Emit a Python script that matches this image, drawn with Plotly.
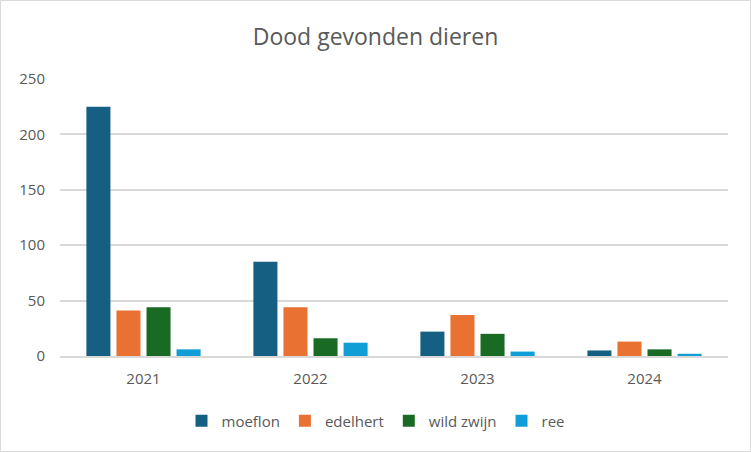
import plotly.graph_objects as go

years = ["2021", "2022", "2023", "2024"]
moeflon = [225, 85, 22, 5]
edelhert = [41, 44, 37, 13]
wild_zwijn = [44, 16, 20, 6]
ree = [6, 12, 4, 2]
series_names = ["moeflon", "edelhert", "wild zwijn", "ree"]
colors = ["#156082", "#E97132", "#196B24", "#0F9ED5"]

W, H = 751, 452
ml, mr, mt, mb = 60, 23, 79, 96

fig = go.Figure()
for name, vals, c in zip(series_names, [moeflon, edelhert, wild_zwijn, ree], colors):
    fig.add_trace(go.Bar(x=years, y=vals, name=name, marker_color=c, marker_line_width=0))

pw = W - ml - mr
ph = H - mt - mb
fig.add_shape(type="rect", xref="paper", yref="paper",
              x0=-(ml - 0.5) / pw, x1=1 + (mr - 0.5) / pw,
              y0=-(mb - 0.5) / ph, y1=1 + (mt - 0.5) / ph,
              line=dict(color="#d9d9d9", width=1), fillcolor="rgba(0,0,0,0)", layer="below")

fig.update_layout(
    width=W, height=H,
    margin=dict(l=ml, r=mr, t=mt, b=mb),
    paper_bgcolor="white", plot_bgcolor="white",
    font=dict(family="Open Sans", color="#595959", size=15),
    title=dict(text="Dood gevonden dieren", x=0.5, xref="container", xanchor="center",
               y=1 - 37 / H, yref="container", yanchor="middle",
               font=dict(size=23, color="#595959", family="Open Sans")),
    barmode="group", bargap=0.28, bargroupgap=0.2,
    showlegend=True,
    legend=dict(orientation="h", x=0.5, xref="container", xanchor="center",
                y=1 - 421 / H, yref="container", yanchor="middle",
                font=dict(size=15, color="#595959"), itemwidth=30, traceorder="normal"),
    xaxis=dict(showgrid=False, showline=True, linecolor="#d9d9d9", linewidth=1.5,
               ticks="", tickfont=dict(size=15, color="#595959"), ticklabelstandoff=8),
    yaxis=dict(range=[0, 250], dtick=50, showgrid=True, gridcolor="#d9d9d9", gridwidth=1.5,
               zeroline=False, showline=False, ticks="", tickfont=dict(size=15, color="#595959"),
               ticklabelstandoff=14),
)

fig.write_html("out.html", config={"displayModeBar": False},
               post_script="document.body.style.margin='0';")
